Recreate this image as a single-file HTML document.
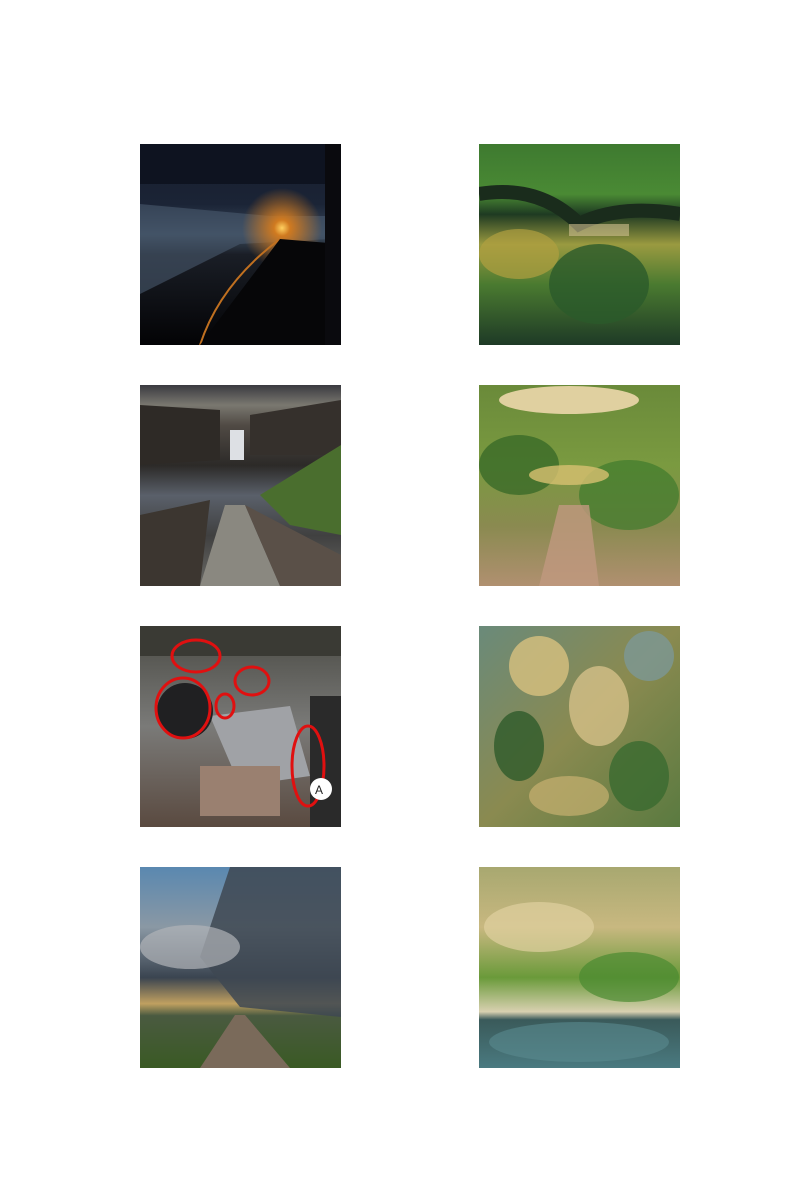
<!DOCTYPE html>
<html><head><meta charset="utf-8"><style>
html,body{margin:0;padding:0;background:#fff;}
body{width:800px;height:1200px;position:relative;overflow:hidden;}
.p{position:absolute;width:201px;height:201px;}
.p svg{display:block;width:201px;height:201px;}
</style></head><body>

<div class="p" style="left:140px;top:144px">
<svg viewBox="0 0 201 201"><defs>
<linearGradient id="g1" x1="0" y1="0" x2="0" y2="1"><stop offset="0" stop-color="#161c2c"/><stop offset="0.3" stop-color="#1b2436"/><stop offset="0.45" stop-color="#3a4a5c"/><stop offset="0.55" stop-color="#1a1e26"/><stop offset="1" stop-color="#030305"/></linearGradient>
<radialGradient id="s1" cx="142" cy="84" r="40" gradientUnits="userSpaceOnUse"><stop offset="0" stop-color="#ffd060"/><stop offset="0.2" stop-color="#d07a20"/><stop offset="1" stop-color="#d07a20" stop-opacity="0"/></radialGradient></defs>
<rect width="201" height="201" fill="url(#g1)"/>
<polygon points="0,60 130,72 190,72 190,95 100,100 0,150" fill="#4a5a6e" opacity="0.6"/>
<rect x="0" y="0" width="201" height="40" fill="#0e1320"/>
<rect width="201" height="201" fill="url(#s1)"/>
<path d="M140,95 Q80,140 60,201" stroke="#c07020" stroke-width="2" fill="none"/>
<polygon points="60,201 140,95 201,100 201,201" fill="#060608"/>
<rect x="185" y="0" width="16" height="201" fill="#0a0a0e"/>
</svg></div>

<div class="p" style="left:479px;top:144px">
<svg viewBox="0 0 201 201"><defs>
<linearGradient id="g2" x1="0" y1="0" x2="0" y2="1"><stop offset="0" stop-color="#3e7a30"/><stop offset="0.25" stop-color="#4a8a34"/><stop offset="0.35" stop-color="#1e3a22"/><stop offset="0.5" stop-color="#9a9a40"/><stop offset="0.7" stop-color="#4a7a30"/><stop offset="1" stop-color="#1e3a26"/></linearGradient></defs>
<rect width="201" height="201" fill="url(#g2)"/>
<path d="M0,50 Q60,40 100,80 Q140,60 201,70" stroke="#1a2c1c" stroke-width="14" fill="none"/>
<ellipse cx="40" cy="110" rx="40" ry="25" fill="#b0a040" opacity="0.7"/>
<ellipse cx="120" cy="140" rx="50" ry="40" fill="#2a5a2a" opacity="0.8"/>
<rect x="90" y="80" width="60" height="12" fill="#d0c090" opacity="0.6"/>
</svg></div>

<div class="p" style="left:140px;top:385px">
<svg viewBox="0 0 201 201"><defs>
<linearGradient id="g3" x1="0" y1="0" x2="0" y2="1"><stop offset="0" stop-color="#3a3a40"/><stop offset="0.1" stop-color="#7a7870"/><stop offset="0.2" stop-color="#504a44"/><stop offset="0.4" stop-color="#2c2a28"/><stop offset="0.55" stop-color="#5a606a"/><stop offset="0.75" stop-color="#404040"/><stop offset="1" stop-color="#6a6a66"/></linearGradient></defs>
<rect width="201" height="201" fill="url(#g3)"/>
<polygon points="0,20 80,25 80,75 0,80" fill="#2e2a26"/>
<polygon points="110,30 201,15 201,70 110,70" fill="#35302c"/>
<rect x="90" y="45" width="14" height="30" fill="#dde0e4"/>
<polygon points="120,110 201,60 201,150 150,140" fill="#4a6e2e"/>
<polygon points="60,201 85,120 105,120 140,201" fill="#8a8880"/>
<polygon points="105,120 201,170 201,201 140,201" fill="#5a5048"/>
<polygon points="0,130 70,115 60,201 0,201" fill="#3c3630"/>
</svg></div>

<div class="p" style="left:479px;top:385px">
<svg viewBox="0 0 201 201"><defs>
<linearGradient id="g4" x1="0" y1="0" x2="0" y2="1"><stop offset="0" stop-color="#6a8a3a"/><stop offset="0.4" stop-color="#7a9a40"/><stop offset="0.7" stop-color="#8a8a50"/><stop offset="1" stop-color="#b09070"/></linearGradient></defs>
<rect width="201" height="201" fill="url(#g4)"/>
<ellipse cx="90" cy="15" rx="70" ry="14" fill="#e0d0a0"/>
<ellipse cx="40" cy="80" rx="40" ry="30" fill="#3a6a28" opacity="0.8"/>
<ellipse cx="150" cy="110" rx="50" ry="35" fill="#3e7a2c" opacity="0.7"/>
<ellipse cx="90" cy="90" rx="40" ry="10" fill="#d8c070" opacity="0.8"/>
<polygon points="60,201 80,120 110,120 120,201" fill="#c09880" opacity="0.8"/>
</svg></div>

<div class="p" style="left:140px;top:626px">
<svg viewBox="0 0 201 201"><defs>
<linearGradient id="g5" x1="0" y1="0" x2="0" y2="1"><stop offset="0" stop-color="#4a4a44"/><stop offset="0.5" stop-color="#7a7a78"/><stop offset="1" stop-color="#5a4a40"/></linearGradient></defs>
<rect width="201" height="201" fill="url(#g5)"/>
<polygon points="70,90 150,80 170,150 100,160" fill="#a0a2a6"/>
<rect x="0" y="0" width="201" height="30" fill="#3a3a34"/>
<ellipse cx="45" cy="85" rx="28" ry="28" fill="#202022"/>
<rect x="60" y="140" width="80" height="50" fill="#9a8070"/>
<rect x="170" y="70" width="31" height="131" fill="#2a2a2a"/>
<g fill="none" stroke="#e01010" stroke-width="3">
<ellipse cx="56" cy="30" rx="24" ry="16"/>
<ellipse cx="43" cy="82" rx="27" ry="30"/>
<ellipse cx="85" cy="80" rx="9" ry="12"/>
<ellipse cx="112" cy="55" rx="17" ry="14"/>
<ellipse cx="168" cy="140" rx="16" ry="40"/>
</g>
<circle cx="181" cy="163" r="11" fill="#fff"/>
<text x="175" y="168" font-family="Liberation Sans, sans-serif" font-size="12" fill="#222">A</text>
</svg></div>

<div class="p" style="left:479px;top:626px">
<svg viewBox="0 0 201 201"><defs>
<linearGradient id="g6" x1="0" y1="0" x2="1" y2="1"><stop offset="0" stop-color="#6a8a7a"/><stop offset="0.5" stop-color="#8a8a50"/><stop offset="1" stop-color="#5a7a40"/></linearGradient></defs>
<rect width="201" height="201" fill="url(#g6)"/>
<ellipse cx="60" cy="40" rx="30" ry="30" fill="#d8c080" opacity="0.8"/>
<ellipse cx="120" cy="80" rx="30" ry="40" fill="#e0c890" opacity="0.7"/>
<ellipse cx="40" cy="120" rx="25" ry="35" fill="#2e5a2a" opacity="0.8"/>
<ellipse cx="160" cy="150" rx="30" ry="35" fill="#3a6a30" opacity="0.8"/>
<ellipse cx="90" cy="170" rx="40" ry="20" fill="#c8b070" opacity="0.7"/>
<ellipse cx="170" cy="30" rx="25" ry="25" fill="#7a9aa0" opacity="0.7"/>
</svg></div>

<div class="p" style="left:140px;top:867px">
<svg viewBox="0 0 201 201"><defs>
<linearGradient id="g7" x1="0" y1="0" x2="0" y2="1"><stop offset="0" stop-color="#5a88b0"/><stop offset="0.3" stop-color="#8a98a4"/><stop offset="0.55" stop-color="#3a4450"/><stop offset="0.68" stop-color="#c0a060"/><stop offset="0.74" stop-color="#4a5a40"/><stop offset="1" stop-color="#3a5a24"/></linearGradient></defs>
<rect width="201" height="201" fill="url(#g7)"/>
<polygon points="90,0 201,0 201,150 100,140 60,90" fill="#3e4852" opacity="0.85"/>
<ellipse cx="50" cy="80" rx="50" ry="22" fill="#b0b4b8" opacity="0.7"/>
<polygon points="60,201 95,148 105,148 150,201" fill="#7a6a5a"/>
</svg></div>

<div class="p" style="left:479px;top:867px">
<svg viewBox="0 0 201 201"><defs>
<linearGradient id="g8" x1="0" y1="0" x2="0" y2="1"><stop offset="0" stop-color="#a8a870"/><stop offset="0.3" stop-color="#c8b880"/><stop offset="0.55" stop-color="#6a9a3a"/><stop offset="0.72" stop-color="#d8d0b0"/><stop offset="0.76" stop-color="#3a5a5a"/><stop offset="1" stop-color="#4a7a80"/></linearGradient></defs>
<rect width="201" height="201" fill="url(#g8)"/>
<ellipse cx="60" cy="60" rx="55" ry="25" fill="#e0d0a0" opacity="0.7"/>
<ellipse cx="150" cy="110" rx="50" ry="25" fill="#4a8a30" opacity="0.7"/>
<ellipse cx="100" cy="175" rx="90" ry="20" fill="#5a8a90" opacity="0.6"/>
</svg></div>

</body></html>
